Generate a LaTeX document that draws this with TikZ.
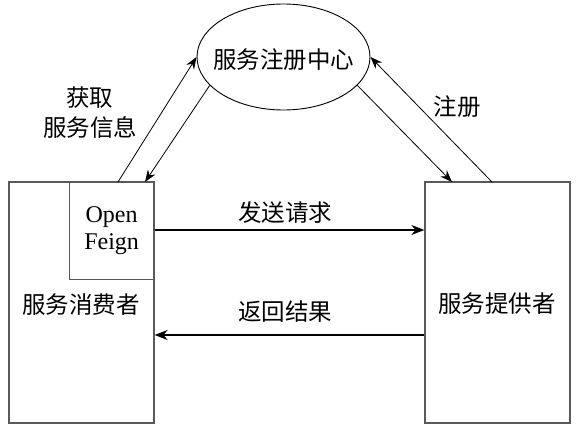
\documentclass[tikz,border=0pt]{standalone}
\usepackage{fontspec}
\setmainfont{Liberation Serif}
\newfontfamily\cjk{Noto Sans CJK SC}
\usetikzlibrary{arrows.meta,shapes.geometric,calc}
\begin{document}
\begin{tikzpicture}[x=1pt,y=-1pt,
  cjktext/.style={font=\cjk\fontsize{23.5}{30}\selectfont, align=center, inner sep=0pt},
  boxnode/.style={draw=black!65, line width=1.3pt, inner sep=0pt},
  thinarrow/.style={line width=0.8pt, -{Stealth[length=12pt,width=9pt]}},
  thickarrow/.style={line width=1.6pt, -{Stealth[length=13pt,width=10pt]}}]
\useasboundingbox (0,0) rectangle (579,430);
\fill[white] (0,0) rectangle (579,430);
% registry
\node[draw, line width=0.9pt, ellipse, minimum width=173pt, minimum height=106pt, inner sep=0pt] (reg) at (283.5,57) {};
\node[cjktext] (regtext) at (283.5,60) {服务注册中心};
% consumer and provider boxes
\node[boxnode, minimum width=145pt, minimum height=241pt] (cons) at (81.5,302.5) {};
\node[cjktext] (constext) at (81,305) {服务消费者};
\node[boxnode, minimum width=145pt, minimum height=241pt] (prov) at (497.5,302.5) {};
\node[cjktext] (provtext) at (497,304) {服务提供者};
% OpenFeign inner box
\node[boxnode, line width=1pt, minimum width=85pt, minimum height=98pt, anchor=north east, font=\fontsize{24}{27}\selectfont, align=center] (feign) at (cons.north east) {Open\\Feign};
% connector end points on box tops
\coordinate (cup) at (118,182);
\coordinate (cdown) at (145,182);
\coordinate (pdown) at (452,182);
\coordinate (pup) at (492,182);
% diagonal arrows
\draw[thinarrow] (cup) -- (reg.west);
\draw[thinarrow] (reg.201) -- (cdown);
\draw[thinarrow] (reg.339) -- (pdown);
\draw[thinarrow] (pup) -- (reg.east);
% horizontal arrows
\coordinate (sendstart) at (cons.east |- 0,230);
\draw[thickarrow] (sendstart) -- (sendstart -| prov.west);
\coordinate (retstart) at (prov.west |- 0,335);
\draw[thickarrow] (retstart) -- (retstart -| cons.east);
% labels
\node[cjktext] (lget) at (90,113) {获取\\服务信息};
\node[cjktext] (lreg) at (457,107) {注册};
\node[cjktext] (lsend) at (285,213) {发送请求};
\node[cjktext] (lret) at (285,312) {返回结果};
\end{tikzpicture}
\end{document}
